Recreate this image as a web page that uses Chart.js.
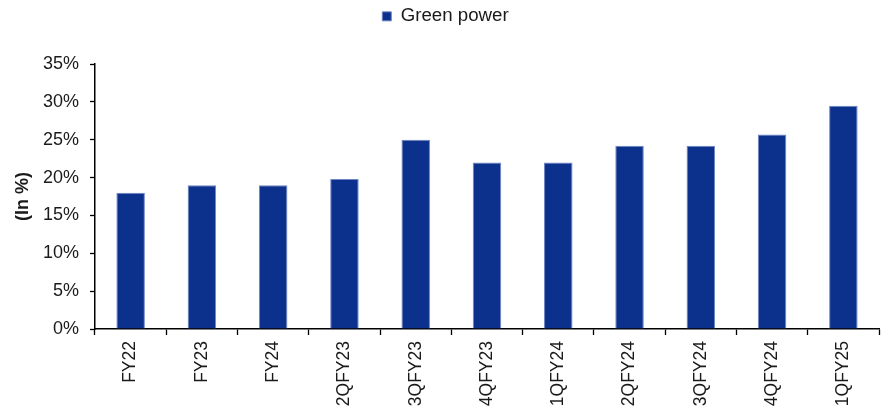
<!DOCTYPE html>
<html>
<head>
<meta charset="utf-8">
<script src="https://cdn.jsdelivr.net/npm/chart.js@4"></script>
<style>
  html, body { margin: 0; padding: 0; background: #ffffff; }
  #wrap { width: 893px; height: 416px; position: relative; }
</style>
</head>
<body>
<div id="wrap"><canvas id="c" width="893" height="416"></canvas></div>
<script>
// Share of green power in total consumption, by period
const categories = ['FY22', 'FY23', 'FY24', '2QFY23', '3QFY23', '4QFY23', '1QFY24', '2QFY24', '3QFY24', '4QFY24', '1QFY25'];
const greenPower = [18, 19, 19, 19.8, 25, 22, 22, 24.2, 24.2, 25.7, 29.5];
const yTicks = [0, 5, 10, 15, 20, 25, 30, 35];

const FONT = "'Liberation Sans', Arial, Helvetica, sans-serif";
const INK = '#1a1a1a';

// Fixes the legend band height so the plot starts at the same place every time
const legendBand = {
  id: 'legendBand',
  beforeInit(chart) {
    const fit = chart.legend.fit;
    chart.legend.fit = function () {
      fit.bind(chart.legend)();
      this.height = 64;
    };
  }
};

new Chart(document.getElementById('c'), {
  type: 'bar',
  data: {
    labels: categories,
    datasets: [{
      label: 'Green power',
      data: greenPower,
      backgroundColor: '#0b318d',
      borderColor: '#6f86c4',
      borderWidth: 1,
      barPercentage: 0.4,
      categoryPercentage: 1.0
    }]
  },
  options: {
    responsive: false,
    animation: false,
    devicePixelRatio: 1,
    layout: { padding: { top: 0, left: 12, right: 14, bottom: 0 } },
    plugins: {
      tooltip: { enabled: false },
      legend: {
        position: 'top',
        labels: {
          boxWidth: 9,
          boxHeight: 9,
          padding: 7,
          color: INK,
          font: { family: FONT, size: 18.7 }
        }
      }
    },
    scales: {
      x: {
        offset: true,
        grid: {
          offset: true,
          drawOnChartArea: false,
          drawTicks: true,
          tickLength: 6,
          tickColor: '#000',
          tickWidth: 1.3
        },
        border: { display: true, color: '#000', width: 1.5 },
        ticks: {
          color: INK,
          font: { family: FONT, size: 17.5 },
          minRotation: 90,
          maxRotation: 90,
          padding: 6,
          autoSkip: false
        },
        afterFit(scale) { scale.height = 87; }
      },
      y: {
        min: 0,
        max: 35,
        afterBuildTicks(scale) { scale.ticks = yTicks.map(v => ({ value: v })); },
        grid: {
          drawOnChartArea: false,
          drawTicks: true,
          tickLength: 5,
          tickColor: '#000',
          tickWidth: 1.3
        },
        border: { display: true, color: '#000', width: 1.5 },
        ticks: {
          color: INK,
          font: { family: FONT, size: 18 },
          padding: 11,
          callback: v => v + '%'
        },
        title: {
          display: true,
          text: '(In %)',
          color: INK,
          font: { family: FONT, size: 18, weight: 'bold' },
          padding: { top: 0, bottom: 0 }
        },
        afterFit(scale) { scale.width = 83; }
      }
    }
  },
  plugins: [legendBand]
});
</script>
</body>
</html>
